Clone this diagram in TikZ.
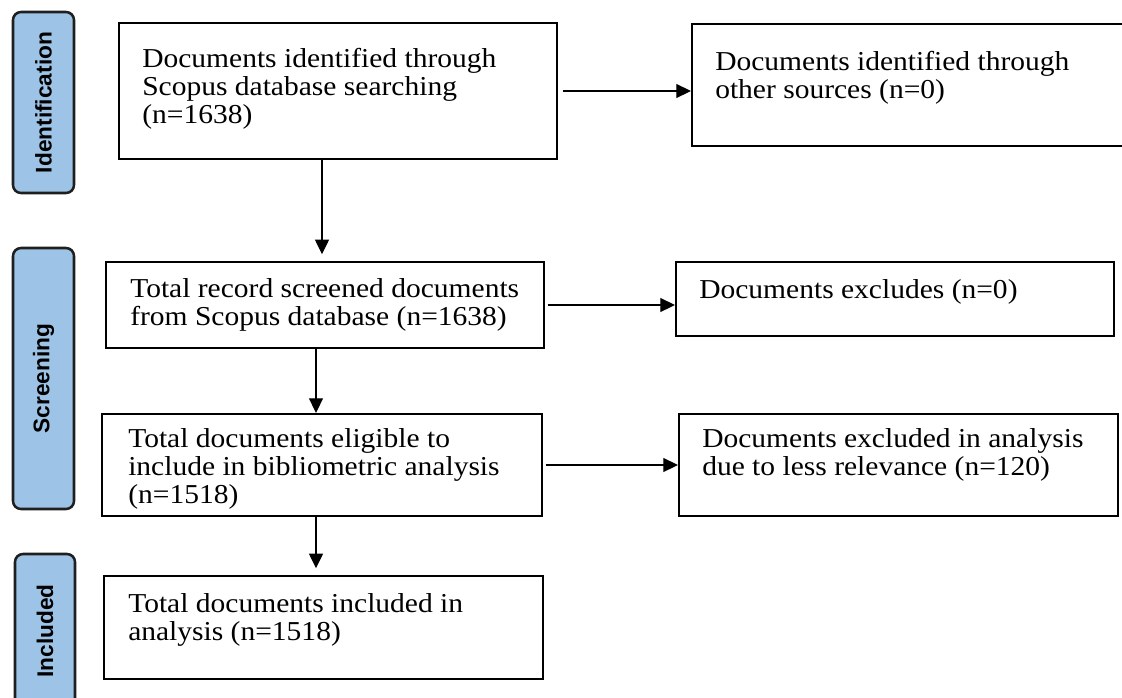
\documentclass[tikz,border=0pt]{standalone}
\usepackage{fontspec}
\setmainfont{Liberation Serif}[FakeStretch=1.08]
\newfontfamily\labelfont{Liberation Sans}
\usetikzlibrary{arrows.meta,fit}
\definecolor{lblfill}{HTML}{9DC3E6}
\definecolor{lbldraw}{HTML}{1F1F1F}
\newcommand\boxlines[1]{\begin{tabular}[t]{@{}l@{}}#1\end{tabular}}
\begin{document}
\begin{tikzpicture}[x=0.75pt,y=-0.75pt,
  box/.style={draw=black,line width=1.6pt,inner sep=0pt},
  lbl/.style={draw=lbldraw,fill=lblfill,line width=1.9pt,rounded corners=6pt,inner sep=0pt},
  lbltext/.style={rotate=90,font=\labelfont\bfseries\fontsize{17}{18}\selectfont,inner sep=0pt},
  txt/.style={anchor=base west,inner sep=0pt,font=\fontsize{20.5}{21}\selectfont},
  arr/.style={-{Triangle[length=11pt,width=10.5pt]},line width=1pt}]
\useasboundingbox (0,0) rectangle (1122,697);
\clip (0,0) rectangle (1122,697);

% side labels
\node[lbl,fit={(13,12)(74,193)}] (lid) {};
\node[lbltext] (tid) at (lid.center) {Identification};
\node[lbl,fit={(13,248)(74,509)}] (lsc) {};
\node[lbltext] (tsc) at (lsc.center) {Screening};
\node[lbl,fit={(15,554)(75,708)}] (lin) {};
\node[lbltext] (tin) at (lin.center) {Included};

% boxes
\node[box,fit={(119,23)(557,159)}] (b1) {};
\node[txt] (t1) at (142,67) {\boxlines{Documents identified through\\Scopus database searching\\(n=1638)}};
\node[box,fit={(692,24)(1126,146)}] (b2) {};
\node[txt] (t2) at (715,70) {\boxlines{Documents identified through\\other sources (n=0)}};
\node[box,fit={(106,262)(544,348)}] (b3) {};
\node[txt] (t3) at (130,297) {\boxlines{Total record screened documents\\from Scopus database (n=1638)}};
\node[box,fit={(676,262)(1114,336)}] (b4) {};
\node[txt] (t4) at (699,298) {Documents excludes (n=0)};
\node[box,fit={(102,414)(542,516)}] (b5) {};
\node[txt] (t5) at (128,447) {\boxlines{Total documents eligible to\\include in bibliometric analysis\\(n=1518)}};
\node[box,fit={(679,414)(1118,516)}] (b6) {};
\node[txt] (t6) at (702,447) {\boxlines{Documents excluded in analysis\\due to less relevance (n=120)}};
\node[box,fit={(104,576)(543,679)}] (b7) {};
\node[txt] (t7) at (128,612) {\boxlines{Total documents included in\\analysis (n=1518)}};

% connectors
\coordinate (c1) at (322,0);
\coordinate (c2) at (316,0);
\draw[arr,shorten <=3.5pt] (b1.east) -- (b1.east -| b2.west);
\draw[arr,shorten >=5pt] (b1.south -| c1) -- (b3.north -| c1);
\draw[arr,shorten <=2pt] (b3.east) -- (b3.east -| b4.west);
\draw[arr] (b3.south -| c2) -- (b5.north -| c2);
\draw[arr,shorten <=2pt] (b5.east) -- (b5.east -| b6.west);
\draw[arr,shorten >=5pt] (b5.south -| c2) -- (b7.north -| c2);
\end{tikzpicture}
\end{document}
